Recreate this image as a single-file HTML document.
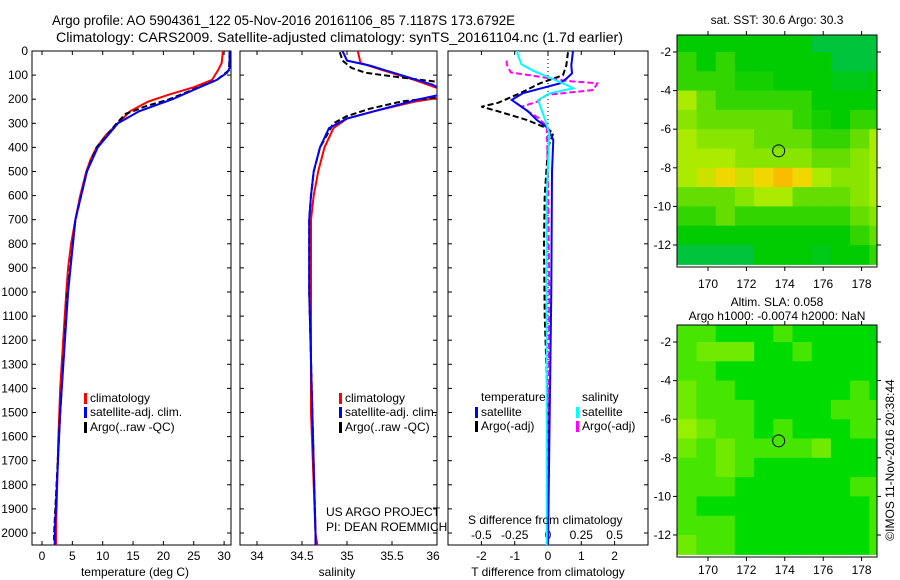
<!DOCTYPE html>
<html><head><meta charset="utf-8"><style>
html,body{margin:0;padding:0;background:#fff;}
svg{display:block;font-family:"Liberation Sans",sans-serif;}
</style></head><body>
<svg id="c" width="900" height="580" viewBox="0 0 900 580" xmlns="http://www.w3.org/2000/svg"></svg>
<script>
// ---------- data ----------
const depthTicks=[0,100,200,300,400,500,600,700,800,900,1000,1100,1200,1300,1400,1500,1600,1700,1800,1900,2000];
const tempTicks=[0,5,10,15,20,25,30];
const salTicks=[34,34.5,35,35.5,36];
const tdTicks=[-2,-1,0,1,2];
const sdTicks=[-0.5,-0.25,0,0.25,0.5];
const sdTickLabels=["-0.5","-0.25","0","0.25","0.5"];
const lonTicks=[170,172,174,176,178];
const latTicks=[-2,-4,-6,-8,-10,-12];

const tClimD=[0,50,80,120,150,180,210,250,300,350,400,450,500,600,700,800,900,1000,1200,1400,1600,1800,2000,2050];
const tClimV=[29.8,29.6,29,28,25,21,17.5,14.5,12.5,10.5,9,8,7.3,6.3,5.5,4.8,4.3,4,3.5,3,2.7,2.5,2.3,2.3];
const tSatD=[0,70,90,120,150,200,250,300,400,500,700,1000,1500,2000,2050];
const tSatV=[30.9,30.9,30.5,28.8,26,21.5,16,12.5,9.2,7.4,5.5,4.3,3,2.1,2.1];
const tArgoD=[5,80,120,200,230,250,260,300,400,500,700,1000,1500,2000,2030];
const tArgoV=[30.9,30.8,28.8,21,17,15,13.8,12.3,9,7.4,5.5,4.2,3,2.0,2.0];

const sClimD=[0,50,80,120,160,190,210,250,280,320,400,500,600,700,1000,1500,2000,2050];
const sClimV=[35.12,35.15,35.4,35.75,36.05,36.1,35.75,35.3,35.0,34.85,34.75,34.68,34.63,34.6,34.6,34.6,34.65,34.67];
const sSatD=[0,40,60,100,140,160,180,200,250,280,320,400,500,600,700,1000,2000,2050];
const sSatV=[34.95,35.0,35.25,35.6,35.95,36.05,36.05,35.8,35.3,35.0,34.8,34.7,34.63,34.6,34.58,34.58,34.65,34.65];
const sArgoD=[5,40,70,90,110,130,150,190,210,240,270,300,400,500,600,700,1000,2000,2030];
const sArgoV=[34.92,34.95,35.05,35.2,35.6,36.05,36.1,36.05,35.6,35.25,35.0,34.85,34.7,34.63,34.6,34.58,34.58,34.65,34.65];

const dTSatD=[0,60,93,115,134,175,203,250,286,320,341,369,500,1000,1500,2050];
const dTSatV=[0.75,0.7,0.72,0.55,0.36,-0.75,-1.09,-0.6,-0.34,0.0,0.06,0.16,0.12,0.1,0.05,0.0];
const dTArgoD=[5,60,100,134,175,215,231,250,286,320,341,400,600,800,1100,1500,2000];
const dTArgoV=[0.6,0.55,0.45,-0.24,-0.84,-1.5,-2.0,-1.5,-0.64,-0.04,0.16,0.0,-0.1,-0.12,-0.1,0.0,0.0];
const dSSatD=[0,10,55,82,106,141,155,175,203,272,341,600,2050];
const dSSatV=[-0.23,-0.23,-0.2,-0.11,-0.01,0.14,0.19,0.015,-0.075,-0.03,0.01,-0.01,-0.01];
const dSArgoD=[40,55,89,103,124,134,162,182,210,231,251,279,313,500,1000,2000];
const dSArgoV=[-0.31,-0.31,-0.28,-0.11,0.14,0.37,0.34,-0.01,-0.08,-0.2,-0.15,-0.07,-0.01,0.0,0.01,0.0];

// map grids: rows lat -1..-13 (1 deg), cols lon 168.4.. (1 deg)
const sstGrid=[
[1,1,1,1,1,1,1,0.5,0.5,0.5,0.5],
[1.5,1,1.5,1,1,1,1,1,0.5,0.5,0.5],
[1.5,1.5,1.5,1.2,1.2,1,1,1,0.8,0.8,1],
[3,2,1.5,1.5,1.5,1.5,1.5,1,1,1,1],
[2.5,2,2,2,2,2,1.5,1.2,1,1.5,1.5],
[3,2.5,2.5,2.5,2,2,2,1.5,1.5,2,3],
[3,3,3,2.5,2.5,2.5,2.5,2,2,2.5,3],
[3,3.5,4,3.5,4,4.5,4,3,2.5,2.5,3],
[2,2,2,2.5,3,3,2,2,2,2.5,3],
[1.5,1.5,2,1.5,1.5,1.5,1.5,1.5,1.5,2,2.5],
[1,1,1,1,1,1,1,1,1,1.5,2],
[0.5,0.5,0.5,0.5,1,1,1,0.8,1,1,1.5]];
const slaGrid=[
[2,2,1,1,1,2,1,1,1,1,0.5],
[2,3,3,3,1,1,2,1,1,1,1],
[2,2,1,1,1,1,1,1,1,1,1],
[3,2,2,1,1,1,1,1,1,2,1],
[3,2,2,2,1,1,1,1,2,2,2],
[4,3,2,2,1,2,1,1,1,2,2],
[3,2,3,2,2,2,2,3,1,1,1],
[2,2,3,2,1,1,1,1,1,1,1],
[2,2,2,1,1,1,1,1,1,2,2],
[2,1,1,1,1,1,1,1,1,1,2],
[2,2,2,1,1,1,1,1,1,1,2],
[3,2,2,1,1,1,1,1,1,1,2]];
const argoLon=173.68, argoLat=-7.12;

// ---------- helpers ----------
const NS="http://www.w3.org/2000/svg";
const svg=document.getElementById('c');
function mk(tag,attrs,parent){const e=document.createElementNS(NS,tag);for(const k in attrs)e.setAttribute(k,attrs[k]);(parent||svg).appendChild(e);return e;}
function txt(s,x,y,opts,parent){const e=mk('text',Object.assign({x:x,y:y,'font-size':12,fill:'#000'},opts||{}),parent);e.textContent=s;return e;}
const yD=d=>51+d*0.241;
const xT=t=>42+t*6.07;
const xS=s=>257+(s-34)*90;
const xDT=v=>548+v*33.3;
const xDS=v=>548+v*133.2;

function panel(name,x0,x1,y0,y1){
  const cp=mk('clipPath',{id:'cp-'+name});mk('rect',{x:x0,y:y0,width:x1-x0,height:y1-y0},cp);
  const r=mk('rect',{x:x0,y:y0,width:x1-x0,height:y1-y0,fill:'none',stroke:'#000','stroke-width':1});
  
  
}
function line(name,D,V,xf,color,dash,w){
  let p='';for(let i=0;i<D.length;i++){p+=(i?'L':'M')+xf(V[i]).toFixed(1)+' '+yD(D[i]).toFixed(1);}
  const e=mk('path',{d:p,fill:'none',stroke:color,'stroke-width':w||2,'clip-path':'url(#cp-'+name.split('|')[0]+')'});
  if(dash)e.setAttribute('stroke-dasharray',dash);
  
  
}
function depthTickMarks(x0,x1,labels){
  depthTicks.forEach(d=>{const y=yD(d);
    mk('line',{x1:x0,y1:y,x2:x0+4,y2:y,stroke:'#000'});
    mk('line',{x1:x1,y1:y,x2:x1-4,y2:y,stroke:'#000'});
    if(labels){const t=txt(String(d),28,y+4,{'text-anchor':'end'});
      
      }
  });
}
function legendEntry(name,label,color,x,y){
  const b=mk('rect',{x:x-6,y:y-9,width:3,height:11,fill:color});
  
  
  const t=txt(label,x,y);
  
  
}

// ---------- titles ----------
let t1=txt('Argo profile: AO 5904361_122 05-Nov-2016 20161106_85 7.1187S 173.6792E',52,25,{'font-size':14,textLength:463,lengthAdjust:'spacingAndGlyphs'});


let t2=txt('Climatology: CARS2009. Satellite-adjusted climatology: synTS_20161104.nc (1.7d earlier)',56,42,{'font-size':14,textLength:567,lengthAdjust:'spacingAndGlyphs'});



// ---------- panel 1: temperature ----------
panel('temp',32,231,51,545);
depthTickMarks(32,231,true);
tempTicks.forEach(v=>{const x=xT(v);mk('line',{x1:x,y1:545,x2:x,y2:541,stroke:'#000'});mk('line',{x1:x,y1:51,x2:x,y2:55,stroke:'#000'});
  const t=txt(String(v),x,560,{'text-anchor':'middle'});});
line('temp|temp-climatology-line',tClimD,tClimV,xT,'#f00');
line('temp|temp-argo-line',tArgoD,tArgoV,xT,'#000','6 3');
line('temp|temp-satellite-line',tSatD,tSatV,xT,'#00f');
let a1=txt('temperature (deg C)',135,576,{'text-anchor':'middle'});


legendEntry('temp-legend-climatology','climatology','#f00',90,402);
legendEntry('temp-legend-satellite','satellite-adj. clim.','#00f',90,416);
legendEntry('temp-legend-argo','Argo(..raw -QC)','#000',90,431);

// ---------- panel 2: salinity ----------
panel('sal',240,437,51,545);
depthTickMarks(240,437,false);
salTicks.forEach(v=>{const x=xS(v);mk('line',{x1:x,y1:545,x2:x,y2:541,stroke:'#000'});mk('line',{x1:x,y1:51,x2:x,y2:55,stroke:'#000'});
  const t=txt(String(v),Math.min(x,433),560,{'text-anchor':'middle'});});
line('sal|sal-climatology-line',sClimD,sClimV,xS,'#f00');
line('sal|sal-argo-line',sArgoD,sArgoV,xS,'#000','6 3');
line('sal|sal-satellite-line',sSatD,sSatV,xS,'#00f');
let a2=txt('salinity',337,576,{'text-anchor':'middle'});


legendEntry('sal-legend-climatology','climatology','#f00',345,402);
legendEntry('sal-legend-satellite','satellite-adj. clim.','#00f',345,416);
legendEntry('sal-legend-argo','Argo(..raw -QC)','#000',345,431);
let us=txt('US ARGO PROJECT',326,516);


let pi=txt('PI: DEAN ROEMMICH',326,531);



// ---------- panel 3: differences ----------
panel('diff',448,648,51,545);
depthTickMarks(448,648,false);
tdTicks.forEach(v=>{const x=xDT(v);mk('line',{x1:x,y1:545,x2:x,y2:541,stroke:'#000'});mk('line',{x1:x,y1:51,x2:x,y2:55,stroke:'#000'});
  const t=txt(String(v),x,560,{'text-anchor':'middle'});});
sdTicks.forEach((v,i)=>{const t=txt(sdTickLabels[i],xDS(v),539,{'text-anchor':'middle'});});
let zl=mk('line',{x1:548,y1:51,x2:548,y2:545,stroke:'#000','stroke-dasharray':'1 3'});


line('diff|tdiff-argo-line',dTArgoD,dTArgoV,xDT,'#000','6 3');
line('diff|sdiff-argo-line',dSArgoD,dSArgoV,xDS,'#f0f','6 3');
line('diff|tdiff-satellite-line',dTSatD,dTSatV,xDT,'#00f');
line('diff|sdiff-satellite-line',dSSatD,dSSatV,xDS,'#0ff');
let sl=txt('S difference from climatology',468,524);


let tl=txt('T difference from climatology',548,576,{'text-anchor':'middle'});


let lt=txt('temperature',481,401);


let ls=txt('salinity',582,401);


legendEntry('diff-legend-temp-satellite','satellite','#00f',481,416);
legendEntry('diff-legend-temp-argo','Argo(-adj)','#000',481,430);
legendEntry('diff-legend-sal-satellite','satellite','#0ff',582,416);
legendEntry('diff-legend-sal-argo','Argo(-adj)','#f0f',582,430);

// ---------- maps ----------
const sstStops=[[0,[0,190,120]],[1,[0,204,0]],[2,[100,222,0]],[3,[170,235,0]],[4,[240,215,0]],[5,[255,160,0]],[6,[220,30,0]]];
const slaStops=[[0,[0,200,40]],[1,[0,220,0]],[2,[70,230,0]],[3,[110,235,0]],[4,[150,240,0]]];
function cmap(v,stops){for(let i=1;i<stops.length;i++){if(v<=stops[i][0]){const a=stops[i-1],b=stops[i],f=(v-a[0])/(b[0]-a[0]);
  return 'rgb('+a[1].map((c,k)=>Math.round(c+(b[1][k]-c)*f)).join(',')+')';}}return 'rgb('+stops[stops.length-1][1].join(',')+')';}
function drawMap(name,grid,stops,top,title1,title2,lonLabelY){
  const x0=677,x1=877,y1=top+232;
  const lx=lon=>708+(lon-170)*19.2;
  const ly=lat=>top+17+(-2-lat)*19.3;
  const g=mk('g',{});
  
  
  const cp=mk('clipPath',{id:'cp-'+name});mk('rect',{x:x0,y:top,width:200,height:232},cp);
  g.setAttribute('clip-path','url(#cp-'+name+')');
  grid.forEach((row,r)=>row.forEach((v,c)=>{
    const lon=168.4+c, lat=-1-r;
    const cell=mk('rect',{x:lx(lon).toFixed(1),y:ly(lat).toFixed(1),width:19.8,height:19.9,fill:cmap(v,stops)},g);
    
    
  }));
  const fr=mk('rect',{x:x0,y:top,width:200,height:232,fill:'none',stroke:'#000'});
  
  
  lonTicks.forEach(v=>{const x=lx(v);mk('line',{x1:x,y1:top,x2:x,y2:top-4,stroke:'#000'});mk('line',{x1:x,y1:y1,x2:x,y2:y1+4,stroke:'#000'});
    const t=txt(String(v),x,lonLabelY,{'text-anchor':'middle'});});
  latTicks.forEach(v=>{const y=ly(v);mk('line',{x1:x0,y1:y,x2:x0-4,y2:y,stroke:'#000'});mk('line',{x1:x1,y1:y,x2:x1+4,y2:y,stroke:'#000'});
    const t=txt(String(v),671,y+4,{'text-anchor':'end'});});
  const ci=mk('circle',{cx:lx(argoLon),cy:ly(argoLat),r:6,fill:'none',stroke:'#000'});
  
  
  if(title1){const t=txt(title1,777,top-(title2?19:11),{'text-anchor':'middle'});}
  if(title2){const t=txt(title2,777,top-5,{'text-anchor':'middle'});}
}
drawMap('sst-map',sstGrid,sstStops,35,'sat. SST: 30.6 Argo: 30.3',null,288);
drawMap('sla-map',slaGrid,slaStops,325,'Altim. SLA: 0.058','Argo h1000: -0.0074 h2000: NaN',574);

let cr=txt('©IMOS 11-Nov-2016 20:38:44',0,0,{transform:'translate(894,460) rotate(-90)','text-anchor':'middle'});


</script>
</body></html>
